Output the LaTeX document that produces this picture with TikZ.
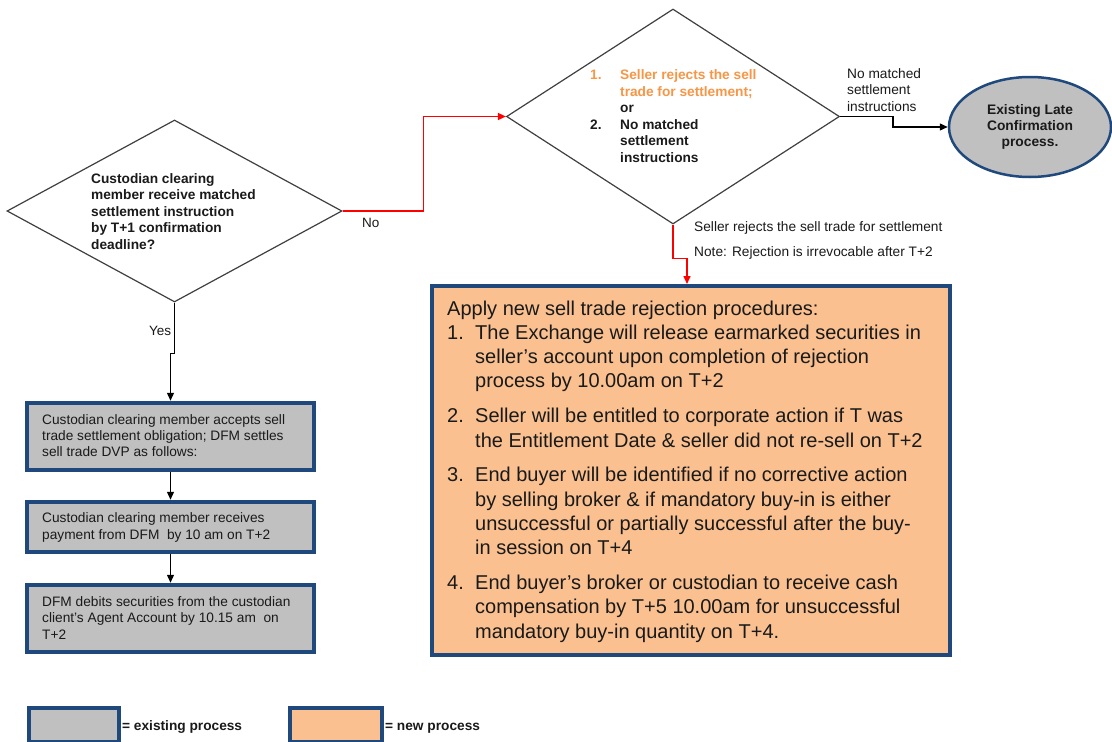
\documentclass[tikz,border=0pt]{standalone}
\usepackage{fontspec}
\setmainfont{Liberation Sans}
\usetikzlibrary{shapes.geometric,arrows.meta}
\definecolor{dblue}{HTML}{1F497D}
\definecolor{gfill}{HTML}{C0C0C0}
\definecolor{ofill}{HTML}{FAC090}
\definecolor{otxt}{HTML}{F79646}
\definecolor{txt}{HTML}{1A1A1A}
\definecolor{dline}{HTML}{404040}
\begin{document}
\begin{tikzpicture}[x=1pt,y=-1pt,
  decision/.style={diamond,draw=dline,line width=1.2pt,fill=white,inner sep=0pt},
  gbox/.style={rectangle,draw=dblue,line width=4.5pt,fill=gfill,inner sep=0pt},
  obox/.style={rectangle,draw=dblue,line width=4pt,fill=ofill,inner sep=0pt},
  oval/.style={ellipse,draw=dblue,line width=2.5pt,fill=gfill,inner sep=0pt,align=center,text=txt,
    font=\bfseries\fontsize{13.8}{16}\selectfont},
  lbl/.style={inner sep=0pt,text=txt},
  redarr/.style={draw=red,line width=1.5pt,-{Triangle[length=8pt,width=7pt]}},
  blkarr/.style={draw=black,line width=1.3pt,-{Triangle[length=8pt,width=7pt]}},
  ]
\useasboundingbox[fill=white] (0,0) rectangle (1112,742);

% decisions
\node[decision,minimum width=335pt,minimum height=182pt] (d1) at (174.5,211) {};
\node[decision,minimum width=333pt,minimum height=215pt] (d2) at (673,116.5) {};

\node[lbl,anchor=base west,font=\bfseries\fontsize{13.7}{16.5}\selectfont] (d1t) at (91,183)
 {\begin{tabular}[t]{@{}l@{}}Custodian clearing\\member receive matched\\settlement instruction\\by T+1 confirmation\\deadline?\end{tabular}};

\node[lbl,anchor=base west,font=\bfseries\fontsize{13.7}{16.6}\selectfont] (d2t) at (590,79.5)
 {\begin{tabular}[t]{@{}l@{}l@{}}
 \makebox[30pt][l]{\textcolor{otxt}{1.}} & \textcolor{otxt}{Seller rejects the sell}\\
  & \textcolor{otxt}{trade for settlement;}\\
  & or\\
 \makebox[30pt][l]{2.} & No matched\\
  & settlement\\
  & instructions
 \end{tabular}};

% ellipse
\node[oval,minimum width=162pt,minimum height=100pt] (e) at (1030,127) {Existing Late\\Confirmation\\process.};

% gray boxes
\node[gbox,minimum width=287pt,minimum height=67pt] (b1) at (170.5,436.5) {};
\node[gbox,minimum width=287pt,minimum height=50pt] (b2) at (170.5,527) {};
\node[gbox,minimum width=287pt,minimum height=67pt] (b3) at (170.5,618.5) {};
\node[lbl,anchor=base west,font=\fontsize{13.7}{16}\selectfont] (b1t) at (42,424.5)
 {\begin{tabular}[t]{@{}l@{}}Custodian clearing member accepts sell\\trade settlement obligation; DFM settles\\sell trade DVP as follows:\end{tabular}};
\node[lbl,anchor=base west,font=\fontsize{13.7}{16.5}\selectfont] (b2t) at (42,522.5)
 {\begin{tabular}[t]{@{}l@{}}Custodian clearing member receives\\payment from DFM\ \ by 10 am on T+2\end{tabular}};
\node[lbl,anchor=base west,font=\fontsize{13.7}{16.3}\selectfont] (b3t) at (42,606.5)
 {\begin{tabular}[t]{@{}l@{}}DFM debits securities from the custodian\\client's Agent Account by 10.15 am\ \ on\\T+2\end{tabular}};

% orange box
\node[obox,minimum width=518pt,minimum height=369pt] (ob) at (691,470.5) {};
\node[lbl,anchor=base west,font=\fontsize{20}{24.3}\selectfont] (obt) at (447,315)
 {\begin{tabular}[t]{@{}l@{}l@{}}
 \multicolumn{2}{@{}l@{}}{Apply new sell trade rejection procedures:}\\
 \makebox[28pt][l]{1.} & The Exchange will release earmarked securities in\\
  & seller's account upon completion of rejection\\
  & process by 10.00am on T+2\\[10.5pt]
 \makebox[28pt][l]{2.} & Seller will be entitled to corporate action if T was\\
  & the Entitlement Date \& seller did not re-sell on T+2\\[10.5pt]
 \makebox[28pt][l]{3.} & End buyer will be identified if no corrective action\\
  & by selling broker \& if mandatory buy-in is either\\
  & unsuccessful or partially successful after the buy-\\
  & in session on T+4\\[10.5pt]
 \makebox[28pt][l]{4.} & End buyer's broker or custodian to receive cash\\
  & compensation by T+5 10.00am for unsuccessful\\
  & mandatory buy-in quantity on T+4.
 \end{tabular}};

% connectors
\draw[redarr] (d1.east) -- ++(81,0) |- (d2.west);
\node[lbl,anchor=base west,font=\fontsize{13.5}{14}\selectfont] (no) at (362,227) {No};

\draw[blkarr] (d1.south) -- ++(0,51) -| (b1.north);
\node[lbl,anchor=base west,font=\fontsize{13.5}{14}\selectfont] (yes) at (149,335) {Yes};

\draw[blkarr] (b1.south) -- (b2.north);
\draw[blkarr] (b2.south) -- (b3.north);

\draw[blkarr] (d2.east) -- ++(53,0) |- (e.west);
\node[lbl,anchor=base west,font=\fontsize{13.7}{16.5}\selectfont] (nm) at (847,78)
 {\begin{tabular}[t]{@{}l@{}}No matched\\settlement\\instructions\end{tabular}};

\draw[redarr] (d2.south) -- ++(0,34) -| ([xshift=-4pt]ob.north);
\node[lbl,anchor=base west,font=\fontsize{13.7}{14}\selectfont] (sr) at (694,231) {Seller rejects the sell trade for settlement};
\node[lbl,anchor=base west,font=\fontsize{13.7}{14}\selectfont] (nt) at (694,256) {Note: Rejection is irrevocable after T+2};

% legend
\node[gbox,line width=4pt,minimum width=90pt,minimum height=34pt] (lg1) at (74,725) {};
\node[lbl,anchor=base west,font=\bfseries\fontsize{13.7}{14}\selectfont] (lg1t) at (122,730) {= existing process};
\node[obox,minimum width=92pt,minimum height=34pt] (lg2) at (335.5,725) {};
\node[lbl,anchor=base west,font=\bfseries\fontsize{13.7}{14}\selectfont] (lg2t) at (385,730) {= new process};
\end{tikzpicture}
\end{document}
